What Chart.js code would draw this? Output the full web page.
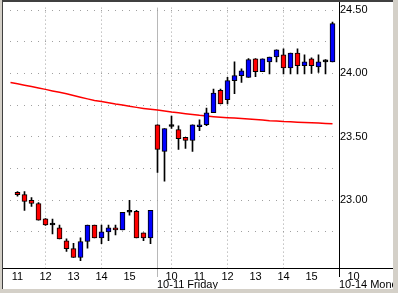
<!DOCTYPE html>
<html>
<head>
<meta charset="utf-8">
<script src="https://cdn.jsdelivr.net/npm/chart.js@4/dist/chart.umd.min.js"></script>
<style>
  html,body{margin:0;padding:0;}
  body{background:#d4d0c8;width:398px;height:293px;overflow:hidden;position:relative;}
  #panel{position:absolute;left:0;top:0;width:393px;height:289px;background:#fff;overflow:hidden;}
  .f{position:absolute;}
</style>
</head>
<body>
<div id="panel"><canvas id="c" width="393" height="289"></canvas></div>
<div class="f" style="left:0;top:0;width:2px;height:289px;background:#d4d0c8"></div>
<div class="f" style="left:2px;top:0;width:1px;height:289px;background:#404040"></div>
<div class="f" style="left:2px;top:0;width:391px;height:2px;background:#404040"></div>
<script>
// 15-minute slots: slot 1 = 10-11 11:00 ... slot 20 = 15:45, slot 21 = 10-14 09:30 ... slot 46 = 15:45
const slots = [1,2,3,4,5,6,7,8,9,10,11,12,13,14,15,16,17,18,19,20,
  21,22,23,24,25,26,27,28,29,30,31,32,33,34,35,36,37,38,39,40,41,42,43,44,45,46];
const openVals = [23.062,23.044,22.998,22.974,22.853,22.804,22.781,22.680,22.618,22.548,
  22.674,22.804,22.703,22.750,22.781,22.765,22.905,22.912,22.742,22.703,
  23.595,23.385,23.581,23.556,23.496,23.471,23.579,23.595,23.690,23.866,
  23.793,23.943,23.982,23.969,24.114,24.013,24.091,24.129,24.147,24.044,
  24.160,24.060,24.114,24.052,24.091,24.091];
const highVals = [23.067,23.067,23.021,22.982,22.855,22.850,22.804,22.695,22.659,22.703,
  22.804,22.804,22.804,22.804,22.804,22.905,22.998,22.920,22.742,22.920,
  23.595,23.564,23.664,23.587,23.496,23.595,23.633,23.726,23.876,23.876,
  23.969,24.091,24.036,24.116,24.116,24.114,24.129,24.186,24.194,24.160,
  24.194,24.147,24.122,24.147,24.109,24.405];
const lowVals = [23.031,22.920,22.951,22.843,22.800,22.734,22.695,22.595,22.548,22.522,
  22.622,22.703,22.657,22.680,22.726,22.765,22.881,22.703,22.680,22.657,
  23.219,23.150,23.566,23.401,23.409,23.385,23.548,23.587,23.690,23.760,
  23.760,23.840,23.928,23.969,23.974,24.013,23.995,24.091,23.995,23.995,
  23.995,23.995,24.000,24.008,23.995,24.091];
const closeVals = [23.044,22.990,22.974,22.843,22.804,22.804,22.695,22.618,22.548,22.674,
  22.804,22.703,22.750,22.781,22.765,22.905,22.905,22.703,22.703,22.920,
  23.401,23.564,23.581,23.486,23.471,23.595,23.595,23.688,23.845,23.760,
  23.943,23.982,24.021,24.109,24.013,24.114,24.129,24.186,24.044,24.160,
  24.060,24.091,24.060,24.091,24.091,24.393];
// moving average, slots 0..46
const maSlots = [0,1,2,3,4,5,6,7,8,9,10,11,12,13,14,15,16,17,18,19,20,
  21,22,23,24,25,26,27,28,29,30,31,32,33,34,35,36,37,38,39,40,41,42,43,44,45,46];
const maVals = [23.928,23.918,23.907,23.896,23.885,23.874,23.862,23.851,23.840,23.826,
  23.812,23.799,23.787,23.778,23.768,23.758,23.750,23.740,23.732,23.724,23.717,
  23.711,23.703,23.695,23.689,23.682,23.676,23.669,23.664,23.659,23.655,
  23.651,23.648,23.644,23.640,23.636,23.632,23.627,23.624,23.620,23.618,
  23.615,23.613,23.611,23.609,23.605,23.602];
// x axis labels
const hourSlots = [1,5,9,13,17,23,27,31,35,39,43,49];
const hourLabels = ['11','12','13','14','15','10','11','12','13','14','15','10'];
const gridSlots = [5,13,23,31,39];
const dayStartSlots = [21,47];
const dayLabels = ['10-11 Friday','10-14 Monday'];
// y axis
const yTickVals = [22.75,23.00,23.25,23.50,23.75,24.00,24.25,24.50];
const yLabelVals = [23.00,23.50,24.00,24.50];

const FONT = '"Liberation Sans", Arial, sans-serif';
Chart.defaults.font.family = FONT;
Chart.defaults.font.size = 11;
Chart.defaults.color = '#000';

const xTickVals = Array.from(new Set([...hourSlots, ...gridSlots, dayStartSlots[0]])).sort((a,b)=>a-b);

function candleColor(i){
  if (closeVals[i] > openVals[i]) return '#0000ff';
  if (closeVals[i] < openVals[i]) return '#ff0000';
  return '#000000';
}

const extraPlugin = {
  id: 'extra',
  afterDraw(chart){
    const {ctx, chartArea:a, scales:{x}} = chart;
    ctx.save();
    const by = Math.round(a.bottom);
    const rx = Math.round(a.right);
    ctx.fillStyle = '#b8b8b8';
    const sx = Math.floor(x.getPixelForValue(dayStartSlots[0]));
    ctx.fillRect(sx, by, 1, 9);
    ctx.fillStyle = '#000';
    ctx.fillRect(3, by, chart.width - 3, 1);
    ctx.fillRect(rx, 0, 1, by + 9);
    ctx.font = '11px ' + FONT;
    ctx.textAlign = 'left';
    ctx.textBaseline = 'alphabetic';
    dayLabels.forEach((t, i) => {
      const px = Math.floor(x.getPixelForValue(dayStartSlots[i]));
      ctx.fillText(t, px, by + 20);
    });
    ctx.restore();
  }
};

new Chart(document.getElementById('c'), {
  type: 'bar',
  data: {
    datasets: [
      {
        type: 'bar',
        label: 'body',
        order: 0,
        data: slots.map((s,i) => ({x: s, y: [openVals[i], closeVals[i]]})),
        backgroundColor: ctx => candleColor(ctx.dataIndex),
        borderColor: '#000',
        borderWidth: 1,
        borderSkipped: false,
        barThickness: 5,
        minBarLength: 2,
        grouped: false
      },
      {
        type: 'bar',
        label: 'wick',
        order: 1,
        data: slots.map((s,i) => ({x: s, y: [lowVals[i], highVals[i]]})),
        backgroundColor: '#000',
        borderWidth: 0,
        barThickness: 1,
        grouped: false
      },
      {
        type: 'line',
        label: 'MA',
        order: 2,
        data: maSlots.map((s,i) => ({x: s, y: maVals[i]})),
        borderColor: '#ff0000',
        borderWidth: 1.5,
        pointRadius: 0,
        tension: 0,
        fill: false
      }
    ]
  },
  options: {
    responsive: false,
    animation: false,
    devicePixelRatio: 1,
    layout: {padding: {left: 4, top: 3, right: 0, bottom: 0}},
    plugins: {legend: {display: false}, tooltip: {enabled: false}},
    scales: {
      x: {
        type: 'linear',
        position: 'bottom',
        offset: false,
        min: -0.9286,
        max: 46.9286,
        afterBuildTicks: s => { s.ticks = xTickVals.map(v => ({value: v})); },
        afterFit: s => { s.height = 21; },
        grid: {
          offset: false,
          drawTicks: false,
          color: c => {
            const v = c.tick && c.tick.value;
            if (v === dayStartSlots[0]) return '#b8b8b8';
            if (gridSlots.includes(v)) return '#a0a0a0';
            return 'rgba(0,0,0,0)';
          },
          lineWidth: 1
        },
        border: {
          display: false,
          dash: c => (c.tick && c.tick.value === dayStartSlots[0]) ? [] : [1,3]
        },
        ticks: {
          autoSkip: false,
          maxRotation: 0,
          padding: 2,
          callback: v => { const k = hourSlots.indexOf(v); return k >= 0 ? hourLabels[k] : ''; }
        }
      },
      y: {
        type: 'linear',
        position: 'right',
        min: 22.465,
        max: 24.519,
        afterBuildTicks: s => { s.ticks = yTickVals.map(v => ({value: v})); },
        afterFit: s => { s.width = 54; },
        grid: {drawTicks: false, color: '#a0a0a0', lineWidth: 1},
        border: {display: false, dash: [1,6], dashOffset: 1},
        ticks: {
          padding: 1,
          callback: v => yLabelVals.some(l => Math.abs(l - v) < 1e-6) ? v.toFixed(2) : ''
        }
      }
    }
  },
  plugins: [extraPlugin]
});
</script>
</body>
</html>
